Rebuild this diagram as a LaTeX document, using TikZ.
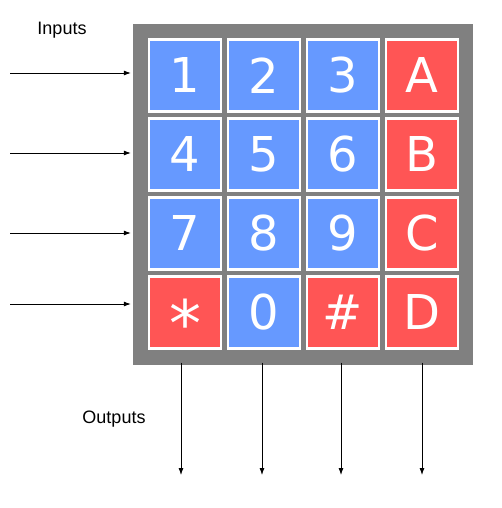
\documentclass[tikz,border=0pt]{standalone}
\usepackage{fontspec}
\setmainfont{Liberation Sans}
\newfontfamily\keyfont{DejaVu Sans}
\usetikzlibrary{arrows.meta, positioning}

\definecolor{padgray}{HTML}{808080}
\definecolor{keyblue}{HTML}{6699FF}
\definecolor{keyred}{HTML}{FF5555}

\tikzset{
  keybox/.style={draw=white, line width=2.5pt, minimum size=72pt, inner sep=0pt,
    text=white, font=\keyfont\fontsize{48}{48}\selectfont},
  num/.style={keybox, fill=keyblue},
  sym/.style={keybox, fill=keyred},
  wire/.style={-{Latex[length=7pt,width=5pt]}, line width=0.8pt},
  lbl/.style={font=\fontsize{18}{18}\selectfont}
}

\begin{document}
\begin{tikzpicture}[x=1pt,y=-1pt]
\useasboundingbox (0,0) rectangle (501,508);

\node (pad) [fill=padgray, minimum size=340pt, inner sep=0pt] at (303,194.5) {};

\node (K1) [num] at (185,75.5) {1};
\node (K2) [num] at (264,75.5) {2};
\node (K3) [num] at (343,75.5) {3};
\node (KA) [sym] at (422,75.5) {A};
\node (K4) [num] at (185,154.5) {4};
\node (K5) [num] at (264,154.5) {5};
\node (K6) [num] at (343,154.5) {6};
\node (KB) [sym] at (422,154.5) {B};
\node (K7) [num] at (185,233.5) {7};
\node (K8) [num] at (264,233.5) {8};
\node (K9) [num] at (343,233.5) {9};
\node (KC) [sym] at (422,233.5) {C};
\node (Kstar) [sym, font=\keyfont\fontsize{64}{64}\selectfont] at (185,312.5) {\raisebox{-0.15em}[0.76em][0pt]{*}};
\node (K0) [num] at (264,312.5) {0};
\node (Khash) [sym] at (343,312.5) {\#};
\node (KD) [sym] at (422,312.5) {D};

\node (inputs) [lbl] at (62,30) {Inputs};
\node (outputs) [lbl] at (114,419) {Outputs};

%Inputs:
\coordinate (in1) at (10,73);
\coordinate (in2) at (10,153);
\coordinate (in3) at (10,233);
\coordinate (in4) at (10,304);
\draw[wire] (in1) -- ([xshift=-2pt]in1 -| pad.west);
\draw[wire] (in2) -- ([xshift=-2pt]in2 -| pad.west);
\draw[wire] (in3) -- ([xshift=-2pt]in3 -| pad.west);
\draw[wire] (in4) -- ([xshift=-2pt]in4 -| pad.west);

%Outputs:
\coordinate (out1) at (181,475);
\coordinate (out2) at (262,475);
\coordinate (out3) at (341,475);
\coordinate (out4) at (422,475);
\draw[wire] ([yshift=2pt]out1 |- pad.south) -- (out1);
\draw[wire] ([yshift=2pt]out2 |- pad.south) -- (out2);
\draw[wire] ([yshift=2pt]out3 |- pad.south) -- (out3);
\draw[wire] ([yshift=2pt]out4 |- pad.south) -- (out4);

\end{tikzpicture}
\end{document}
